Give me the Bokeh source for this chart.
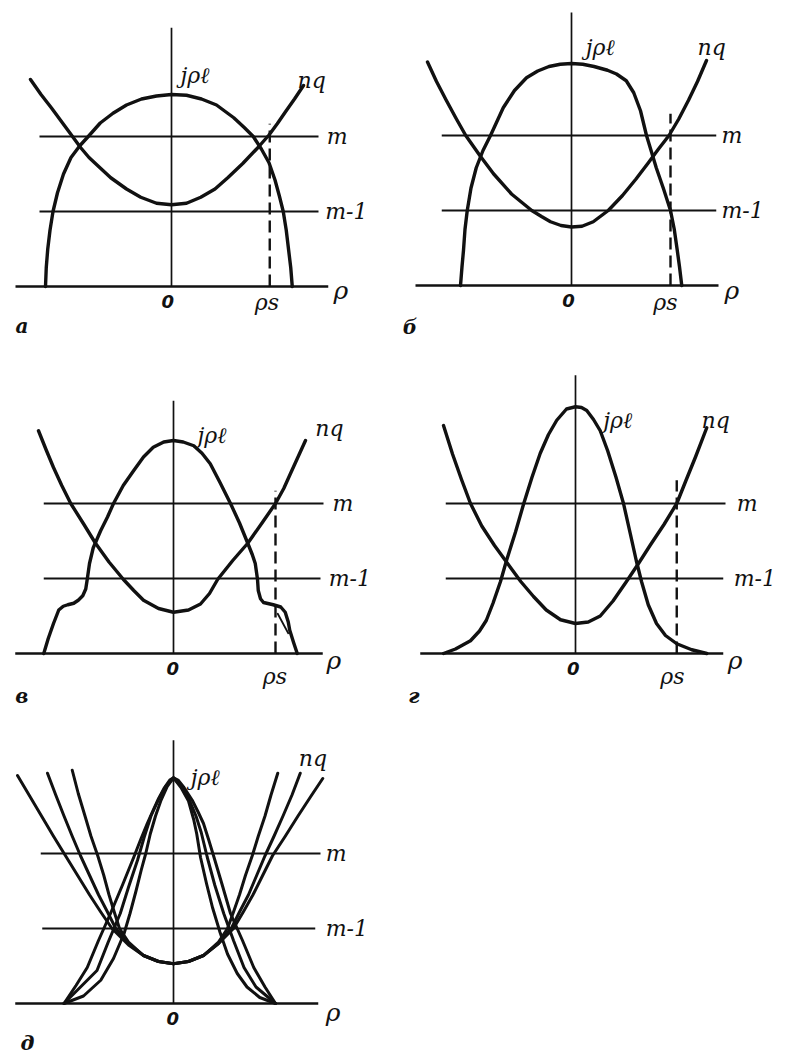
from bokeh.plotting import figure
from bokeh.models import Range1d
from bokeh.layouts import column, row
from bokeh.embed import file_html
from bokeh.resources import INLINE
from bokeh.core.properties import value

# ---------------------------------------------------------------------------
# Values (units: level m-1 = 1, level m = 2; rho measured in the same unit)
# ---------------------------------------------------------------------------
M_LEVEL = 2.0
M1_LEVEL = 1.0

# panel а
A_J_X = [-1.68, -1.67, -1.65, -1.62, -1.58, -1.52, -1.44, -1.34, -1.22, -1.11, -0.95, -0.78,
         -0.6, -0.4, -0.2, 0.0, 0.2, 0.4, 0.6, 0.83, 0.97, 1.09, 1.2, 1.3, 1.38, 1.44, 1.49,
         1.53, 1.56, 1.59, 1.61]
A_J_Y = [0.0, 0.25, 0.5, 0.75, 1.0, 1.25, 1.5, 1.72, 1.88, 2.0, 2.18, 2.31,
         2.42, 2.5, 2.54, 2.56, 2.55, 2.5, 2.42, 2.25, 2.12, 2.0, 1.83, 1.65, 1.42, 1.2, 1.0,
         0.75, 0.5, 0.25, 0.0]
A_Q_X = [-1.88, -1.74, -1.6, -1.46, -1.32, -1.21, -1.1, -0.95, -0.81, -0.6, -0.41, -0.2, 0.0,
         0.2, 0.39, 0.58, 0.75, 0.95, 1.15, 1.3, 1.41, 1.52, 1.64, 1.76]
A_Q_Y = [2.76, 2.56, 2.38, 2.19, 2.0, 1.85, 1.72, 1.58, 1.45, 1.3, 1.19, 1.11, 1.09,
         1.11, 1.19, 1.3, 1.45, 1.64, 1.85, 2.02, 2.17, 2.33, 2.5, 2.68]
A_RHO_S = 1.31

# panel б
B_J_X = [-1.48, -1.46, -1.44, -1.42, -1.39, -1.34, -1.27, -1.18, -1.08, -0.91, -0.76, -0.6,
         -0.45, -0.3, -0.15, 0.0, 0.15, 0.3, 0.48, 0.6, 0.73, 0.83, 0.92, 1.0, 1.07, 1.13,
         1.23, 1.32, 1.37, 1.41, 1.44, 1.47]
B_J_Y = [0.0, 0.25, 0.47, 0.75, 1.0, 1.3, 1.57, 1.8, 2.0, 2.37, 2.6, 2.77,
         2.86, 2.92, 2.95, 2.96, 2.95, 2.92, 2.87, 2.82, 2.73, 2.57, 2.33, 2.0, 1.77, 1.57,
         1.28, 1.0, 0.75, 0.47, 0.25, 0.0]
B_Q_X = [-1.92, -1.8, -1.67, -1.54, -1.41, -1.22, -1.04, -0.8, -0.53, -0.4, -0.28, -0.14, 0.0,
         0.14, 0.29, 0.49, 0.68, 0.86, 1.02, 1.16, 1.3, 1.43, 1.56, 1.68, 1.8]
B_Q_Y = [2.98, 2.72, 2.47, 2.23, 2.0, 1.73, 1.49, 1.22, 1.0, 0.92, 0.85, 0.8, 0.78,
         0.79, 0.85, 1.0, 1.2, 1.42, 1.63, 1.82, 2.0, 2.22, 2.47, 2.72, 3.0]
B_RHO_S = 1.32

# panel в
C_J_X = [-1.73, -1.67, -1.6, -1.53, -1.47, -1.41, -1.33, -1.27, -1.21, -1.17, -1.15, -1.12,
         -1.07, -0.97, -0.88, -0.8, -0.67, -0.53, -0.4, -0.27, -0.13, 0.0, 0.13, 0.27, 0.38,
         0.49, 0.62, 0.76, 0.88, 0.99, 1.05, 1.09, 1.12, 1.13, 1.16, 1.2, 1.33, 1.43, 1.49,
         1.53, 1.55, 1.6, 1.65]
C_J_Y = [0.0, 0.2, 0.4, 0.58, 0.63, 0.65, 0.67, 0.71, 0.77, 0.86, 0.99, 1.2,
         1.41, 1.64, 1.82, 2.0, 2.24, 2.44, 2.62, 2.75, 2.82, 2.84, 2.82, 2.77, 2.67,
         2.53, 2.28, 2.0, 1.74, 1.47, 1.32, 1.2, 0.99, 0.84, 0.73, 0.68, 0.65, 0.62, 0.55,
         0.42, 0.31, 0.15, 0.0]
C_J_LOOP_X = [1.39, 1.53]
C_J_LOOP_Y = [0.53, 0.27]
C_Q_X = [-1.8, -1.7, -1.6, -1.49, -1.37, -1.2, -1.04, -0.86, -0.67, -0.53, -0.4, -0.2, 0.0,
         0.2, 0.36, 0.48, 0.59, 0.79, 0.99, 1.18, 1.36, 1.47, 1.56, 1.66, 1.76]
C_Q_Y = [2.97, 2.72, 2.48, 2.24, 2.0, 1.73, 1.47, 1.22, 0.99, 0.84, 0.71, 0.6, 0.55,
         0.58, 0.66, 0.8, 0.99, 1.24, 1.47, 1.74, 2.0, 2.2, 2.4, 2.62, 2.84]
C_RHO_S = 1.36

# panel г
D_J_X = [-1.76, -1.6, -1.4, -1.28, -1.19, -1.1, -1.0, -0.92, -0.8, -0.69, -0.58, -0.47, -0.36,
         -0.25, -0.12, 0.0, 0.08, 0.15, 0.24, 0.33, 0.43, 0.54, 0.64, 0.73, 0.81, 0.88, 0.97,
         1.08, 1.2, 1.35, 1.55, 1.75]
D_J_Y = [0.0, 0.06, 0.17, 0.3, 0.44, 0.67, 0.96, 1.24, 1.62, 2.0, 2.35, 2.67, 2.92,
         3.11, 3.26, 3.29, 3.28, 3.24, 3.12, 2.97, 2.7, 2.35, 2.0, 1.6, 1.24, 0.96, 0.65,
         0.4, 0.24, 0.13, 0.05, 0.0]
D_Q_X = [-1.76, -1.64, -1.52, -1.4, -1.25, -1.08, -0.92, -0.73, -0.56, -0.39, -0.2, 0.0, 0.17,
         0.33, 0.5, 0.68, 0.84, 1.0, 1.18, 1.35, 1.47, 1.6, 1.75]
D_Q_Y = [3.04, 2.66, 2.32, 2.0, 1.7, 1.44, 1.22, 0.96, 0.76, 0.58, 0.45, 0.4, 0.42,
         0.5, 0.7, 0.96, 1.2, 1.45, 1.72, 2.0, 2.3, 2.62, 3.01]
D_RHO_S = 1.35

# panel д: a family of current profiles and a family of q profiles
E_J1_X = [-1.46, -1.3, -1.15, -1.0, -0.84, -0.68, -0.53, -0.44, -0.35, -0.27, -0.2, -0.12, -0.05,
          0.0, 0.06, 0.14, 0.25, 0.33, 0.4, 0.47, 0.54, 0.65, 0.76, 0.92, 1.07, 1.22, 1.36]
E_J1_Y = [0.0, 0.24, 0.48, 0.84, 1.2, 1.58, 1.95, 2.18, 2.4, 2.58, 2.73, 2.88, 2.98,
          3.01, 2.98, 2.88, 2.71, 2.55, 2.4, 2.18, 1.95, 1.58, 1.2, 0.84, 0.48, 0.22, 0.0]
E_J2_X = [-1.46, -1.24, -1.02, -0.87, -0.71, -0.6, -0.48, -0.39, -0.3, -0.2, -0.1, 0.0,
          0.1, 0.2, 0.3, 0.37, 0.45, 0.55, 0.67, 0.8, 0.94, 1.1, 1.36]
E_J2_Y = [0.0, 0.22, 0.44, 0.82, 1.2, 1.55, 1.91, 2.22, 2.5, 2.72, 2.9, 3.01,
          2.9, 2.74, 2.5, 2.28, 1.95, 1.58, 1.2, 0.84, 0.48, 0.22, 0.0]
E_J3_X = [-1.46, -1.2, -0.97, -0.8, -0.66, -0.58, -0.5, -0.43, -0.37, -0.31, -0.24, -0.17,
          -0.08, 0.0, 0.1, 0.2, 0.27, 0.31, 0.36, 0.44, 0.52, 0.62, 0.72, 0.85, 0.98, 1.15, 1.36]
E_J3_Y = [0.0, 0.1, 0.31, 0.6, 0.93, 1.2, 1.5, 1.78, 2.0, 2.26, 2.5, 2.7,
          2.9, 3.01, 2.88, 2.7, 2.45, 2.26, 1.95, 1.6, 1.28, 0.95, 0.66, 0.4, 0.22, 0.08, 0.0]
E_Q1_X = [-2.08, -1.92, -1.76, -1.6, -1.44, -1.28, -1.12, -0.97, -0.82, -0.6, -0.4, -0.2, 0.0,
          0.2, 0.4, 0.6, 0.8, 0.93, 1.06, 1.19, 1.32, 1.49, 1.66, 1.83, 1.99]
E_Q1_Y = [3.04, 2.77, 2.5, 2.23, 1.97, 1.71, 1.45, 1.22, 1.0, 0.78, 0.64, 0.56, 0.53,
          0.56, 0.64, 0.8, 1.0, 1.22, 1.45, 1.71, 1.97, 2.23, 2.5, 2.76, 3.0]
E_Q2_X = [-1.68, -1.57, -1.46, -1.35, -1.24, -1.12, -1.0, -0.88, -0.77, -0.6, -0.4, -0.2, 0.0,
          0.2, 0.4, 0.6, 0.77, 0.88, 1.0, 1.11, 1.22, 1.34, 1.46, 1.58, 1.69]
E_Q2_Y = [3.07, 2.78, 2.5, 2.23, 1.97, 1.71, 1.45, 1.22, 1.0, 0.8, 0.64, 0.56, 0.53,
          0.56, 0.64, 0.8, 1.0, 1.22, 1.45, 1.71, 1.97, 2.23, 2.5, 2.78, 3.07]
E_Q3_X = [-1.35, -1.27, -1.18, -1.1, -1.01, -0.93, -0.86, -0.79, -0.72, -0.6, -0.4, -0.2, 0.0,
          0.2, 0.4, 0.6, 0.72, 0.8, 0.88, 0.96, 1.05, 1.13, 1.22, 1.3, 1.39]
E_Q3_Y = [3.11, 2.8, 2.5, 2.23, 1.97, 1.71, 1.45, 1.22, 1.0, 0.82, 0.64, 0.56, 0.53,
          0.56, 0.64, 0.82, 1.0, 1.22, 1.45, 1.71, 1.97, 2.23, 2.5, 2.78, 3.07]

# ---------------------------------------------------------------------------
# Drawing
# ---------------------------------------------------------------------------
UNIT = 75          # pixels per unit on both axes
INK = "#111111"
SERIF = value("DejaVu Serif")
SANS = value("DejaVu Sans")


def make_panel(fx, fy, w, h, cx, cy):
    """Figure covering page box (fx, fy, w, h) whose origin sits at page pixel (cx, cy)."""
    p = figure(width=w, height=h, output_backend="svg", toolbar_location=None,
               x_axis_type=None, y_axis_type=None, min_border=0,
               x_range=Range1d((fx - cx) / UNIT, (fx + w - cx) / UNIT),
               y_range=Range1d((cy - fy - h) / UNIT, (cy - fy) / UNIT))
    p.outline_line_color = None
    p.background_fill_color = "white"
    p.border_fill_color = "white"
    return p


def frame(p, top, rho_ext, m_ext, m1_ext):
    # vertical axis, rho axis and the two level lines
    p.segment(x0=[0], y0=[0], x1=[0], y1=[top], line_color=INK, line_width=1.7)
    p.segment(x0=[rho_ext[0]], y0=[0], x1=[rho_ext[1]], y1=[0], line_color=INK, line_width=2.6)
    p.segment(x0=[m_ext[0]], y0=[M_LEVEL], x1=[m_ext[1]], y1=[M_LEVEL],
              line_color=INK, line_width=2.2)
    p.segment(x0=[m1_ext[0]], y0=[M1_LEVEL], x1=[m1_ext[1]], y1=[M1_LEVEL],
              line_color=INK, line_width=2.2)


def curve(p, xs, ys, width=3.4):
    p.line(xs, ys, line_color=INK, line_width=width, line_join="round", line_cap="round")


def dashed(p, x, top):
    p.segment(x0=[x], y0=[0], x1=[x], y1=[top], line_color=INK, line_width=2.4,
              line_dash="12 6")


def label(p, x, y, txt, size="22px", font=SERIF, style="italic", align="left"):
    p.text(x=[x], y=[y], text=[txt], text_font=font, text_font_style=style,
           text_font_size=size, text_color=INK, text_align=align, text_baseline="middle")


def common_labels(p, jx, jy, qx, qy, mx, m1x, rx, ry, tag, tx, ty, zero_x=0.0, rho_s=None,
                  m_y=M_LEVEL, m1_y=M1_LEVEL):
    label(p, jx, jy, "jρℓ")
    label(p, qx, qy, "nq")
    label(p, mx, m_y, "m")
    label(p, m1x, m1_y, "m-1")
    label(p, rx, ry, "ρ", size="25px")
    label(p, zero_x, -0.2, "0", size="18px", font=SANS, style="bold italic", align="center")
    if rho_s is not None:
        label(p, rho_s[0], rho_s[1], "ρs", size="22px")
    label(p, tx, ty, tag, size="20px", style="bold italic")


# panel а
pa = make_panel(0, 0, 393, 340, 171, 286)
frame(pa, 3.45, (-2.08, 2.09), (-1.76, 1.96), (-1.76, 1.96))
dashed(pa, A_RHO_S, 2.17)
curve(pa, A_J_X, A_J_Y)
curve(pa, A_Q_X, A_Q_Y)
common_labels(pa, 0.12, 2.81, 1.68, 2.75, 2.07, 2.05, 2.16, -0.05, "а", -2.08, -0.52,
              zero_x=-0.05, rho_s=(1.11, -0.21))

# panel б
pb = make_panel(393, 0, 393, 340, 571, 285)
frame(pb, 3.64, (-2.08, 1.96), (-1.73, 1.93), (-1.73, 1.93))
dashed(pb, B_RHO_S, 2.29)
curve(pb, B_J_X, B_J_Y)
curve(pb, B_Q_X, B_Q_Y)
common_labels(pb, 0.19, 3.17, 1.68, 3.17, 2.0, 2.0, 2.04, -0.07, "б", -2.25, -0.55,
              zero_x=-0.04, rho_s=(1.09, -0.23))

# panel в
pc = make_panel(0, 340, 393, 370, 173, 653)
frame(pc, 3.37, (-2.11, 1.99), (-1.73, 2.0), (-1.73, 1.96))
dashed(pc, C_RHO_S, 2.17)
curve(pc, C_J_X, C_J_Y)
curve(pc, C_J_LOOP_X, C_J_LOOP_Y, width=1.8)
curve(pc, C_Q_X, C_Q_Y)
common_labels(pc, 0.32, 2.91, 1.89, 3.0, 2.12, 2.07, 2.04, -0.09, "в", -2.11, -0.56,
              zero_x=-0.01, rho_s=(1.19, -0.31))

# panel г
pd = make_panel(393, 340, 393, 370, 575, 653)
frame(pd, 3.71, (-2.07, 1.97), (-1.73, 2.0), (-1.73, 1.97))
dashed(pd, D_RHO_S, 2.31)
curve(pd, D_J_X, D_J_Y)
curve(pd, D_Q_X, D_Q_Y)
common_labels(pd, 0.37, 3.11, 1.68, 3.11, 2.15, 2.11, 2.03, -0.09, "г", -2.23, -0.56,
              zero_x=-0.03, rho_s=(1.13, -0.31))

# panel д
pe = make_panel(0, 710, 393, 344, 173, 1003)
frame(pe, 3.51, (-2.11, 1.93), (-1.77, 1.96), (-1.75, 1.89))
for xs, ys in ((E_J1_X, E_J1_Y), (E_J2_X, E_J2_Y), (E_J3_X, E_J3_Y),
               (E_Q1_X, E_Q1_Y), (E_Q2_X, E_Q2_Y), (E_Q3_X, E_Q3_Y)):
    curve(pe, xs, ys, width=3.0)
common_labels(pe, 0.23, 3.01, 1.67, 3.27, 2.03, 2.03, 2.03, -0.12, "д", -2.04, -0.52,
              zero_x=-0.01)

layout = column(row(pa, pb), row(pc, pd), row(pe))
html = file_html(layout, INLINE, title="Profiles of j and nq")
open("out.html", "w").write(html)
